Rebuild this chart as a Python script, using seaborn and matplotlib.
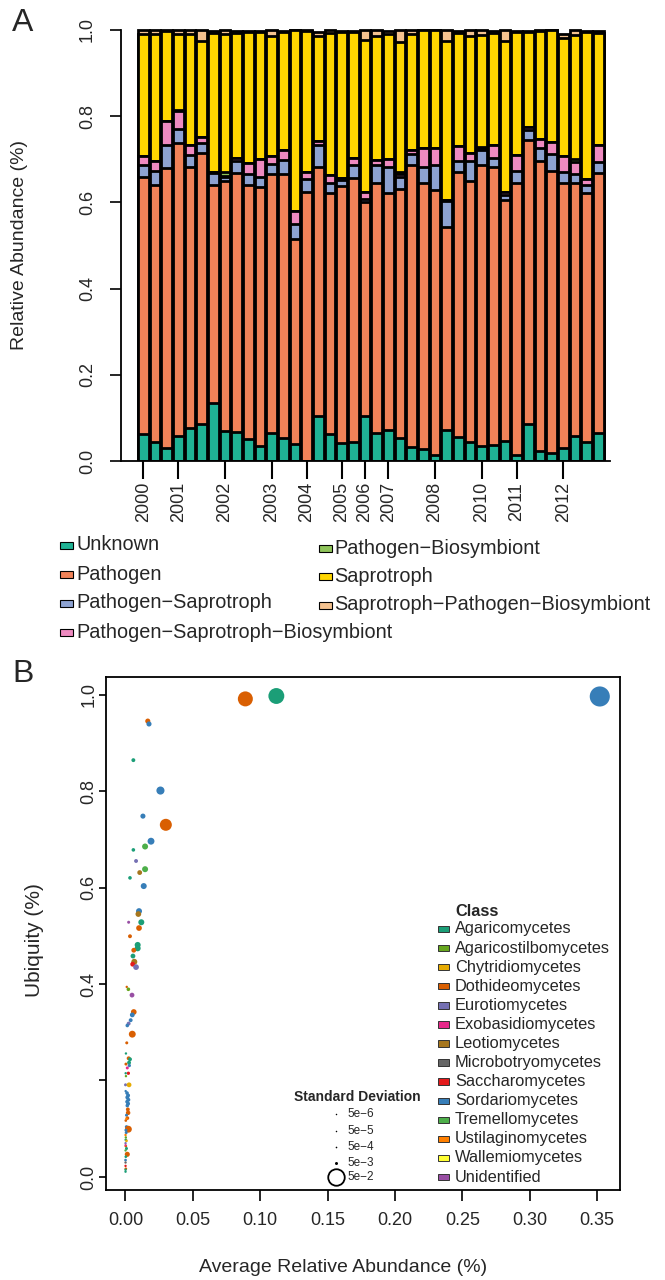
import numpy as np
import pandas as pd
import matplotlib
matplotlib.use("Agg")
import matplotlib.pyplot as plt
import seaborn as sns
from matplotlib.patches import Rectangle
from matplotlib.lines import Line2D

# ---------------- Panel A data ----------------
guilds = ["Unknown", "Pathogen", "Pathogen\u2212Saprotroph",
          "Pathogen\u2212Saprotroph\u2212Biosymbiont", "Pathogen\u2212Biosymbiont",
          "Saprotroph", "Saprotroph\u2212Pathogen\u2212Biosymbiont"]
guild_colors = ["#1FB294", "#F08258", "#8DA2D1", "#EE8AC0", "#8FC45A", "#FFD600", "#F4C28F"]

unknown = [.062, .045, .031, .058, .076, .086, .135, .069, .068, .050, .035, .066, .053, .039, 0, .104,
           .063, .041, .045, .104, .064, .071, .053, .033, .027, .014, .073, .056, .045, .035, .037, .046,
           .014, .086, .023, .019, .031, .058, .045, .066]
pathogen = [.598, .596, .649, .679, .607, .628, .506, .580, .600, .591, .600, .600, .613, .477, .625, .579,
            .559, .598, .611, .497, .581, .551, .579, .653, .618, .614, .471, .614, .605, .652, .646, .559,
            .631, .659, .672, .653, .615, .588, .577, .602]
path_sap = [.027, .031, .054, .034, .027, .023, .027, .011, .027, .025, .025, .023, .033, .034, .029, .051,
            .023, .014, .031, .007, .041, .061, .028, .026, .038, .059, .060, .025, .045, .035, .021, .013,
            .027, .023, .031, .040, .024, .020, .019, .025]
path_sap_bio = [.020, .023, .054, .040, .022, .014, .003, .002, .008, .025, .041, .018, .023, .031, .016, .009,
                .019, .003, .017, .017, .013, .018, .005, .010, .043, .039, .002, .035, .019, .003, .030, .007,
                .038, .007, .021, .028, .037, .027, .014, .041]
path_bio = [0, 0, 0, .004, 0, 0, 0, .008, 0, 0, 0, 0, 0, 0, 0, 0,
            0, 0, 0, 0, 0, 0, .006, 0, 0, 0, 0, 0, 0, .003, 0, 0,
            0, 0, 0, 0, 0, .008, 0, 0]
saprotroph = [.283, .296, .210, .175, .258, .224, .321, .320, .289, .304, .294, .280, .273, .419, .328, .244,
              .330, .340, .292, .352, .286, .289, .302, .268, .274, .274, .369, .262, .271, .260, .258, .350,
              .286, .221, .251, .260, .275, .287, .341, .258]
sap_path_bio = [.010, .009, .002, .010, .010, .025, .005, .010, .005, .002, .003, .013, .003, 0, .002, .009,
                .006, .001, .002, .023, .015, .008, .027, .010, 0, 0, .025, .006, .015, .012, .006, .025,
                .001, .001, .002, 0, .008, .012, .001, .006]
samples = ["S%02d" % (i + 1) for i in range(len(unknown))]
year_labels = ["2000", "2001", "2002", "2003", "2004", "2005", "2006", "2007", "2008", "2010", "2011", "2012"]
year_first_sample = [0, 3, 7, 11, 14, 17, 19, 21, 25, 29, 32, 36]

# ---------------- Panel B data ----------------
classes = ["Agaricomycetes", "Agaricostilbomycetes", "Chytridiomycetes", "Dothideomycetes",
           "Eurotiomycetes", "Exobasidiomycetes", "Leotiomycetes", "Microbotryomycetes",
           "Saccharomycetes", "Sordariomycetes", "Tremellomycetes", "Ustilaginomycetes",
           "Wallemiomycetes", "Unidentified"]
class_colors = ["#1B9E77", "#66A61E", "#E6AB02", "#D95F02", "#7570B3", "#E7298A", "#A6761D",
                "#666666", "#E41A1C", "#377EB8", "#4DAF4A", "#FF7F00", "#FFFF33", "#984EA3"]
SO, AG, DO, TR, EU, LE, UN, SA, AS, EX, CH, US, MI = ("Sordariomycetes", "Agaricomycetes", "Dothideomycetes",
    "Tremellomycetes", "Eurotiomycetes", "Leotiomycetes", "Unidentified", "Saccharomycetes",
    "Agaricostilbomycetes", "Exobasidiomycetes", "Chytridiomycetes", "Ustilaginomycetes", "Microbotryomycetes")
otu_class = [SO, AG, DO, DO, SO, AG, SO, SO, DO, SO, TR, AG, EU, TR, LE, AG, SO, SO, LE, UN,
             AG, DO, DO, AG, AG, DO, AG, LE, SA, EU, DO, AS, UN, DO, SO, SO, EU, SO, DO, DO,
             AG, DO, AG, AG, DO, SO, EX, SA, AG, AS, EU, CH, SO, SO, SO, SO, SO, SO, SO, SO,
             DO, DO, SO, DO, DO, SO, DO, SO, SO, US, AS, AG, CH, EU, DO, AG, TR, DO, AG, SO,
             MI, SA, DO, AG, AG, EX, US]
avg_abundance = [0.352, 0.112, 0.089, 0.0166, 0.0175, 0.0059, 0.026, 0.013, 0.030, 0.019,
                 0.0146, 0.0059, 0.0079, 0.0146, 0.0106, 0.0034, 0.0136, 0.0101, 0.0096, 0.0024,
                 0.0118, 0.0101, 0.0034, 0.0091, 0.0091, 0.0062, 0.0056, 0.0066, 0.0054, 0.0079,
                 0.0010, 0.0022, 0.0049, 0.0062, 0.0051, 0.0039, 0.0024, 0.0014, 0.0051, 0.0010,
                 0.0004, 0.0024, 0.0034, 0.0027, 0.0004, 0.0029, 0.0014, 0.0022, 0.0002, 0.0004,
                 0.0001, 0.0027, 0.0002, 0.0012, 0.0020, 0.0014, 0.0022, 0.0012, 0.0020, 0.0014,
                 0.0018, 0.0020, 0.0008, 0.0015, 0.0003, 0.0008, 0.0022, 0.0004, 0.0006, 0.0001,
                 0.0003, 0.0003, 0.0008, 0.0001, 0.0003, 0.0008, 0.0001, 0.0014, 0.0003, 0.0001,
                 0.0001, 0.0001, 0.0003, 0.0001, 0.0001, 0.0001, 0.0008]
ubiquity = [0.996, 0.997, 0.991, 0.945, 0.939, 0.864, 0.801, 0.748, 0.730, 0.696,
            0.685, 0.678, 0.655, 0.638, 0.631, 0.620, 0.603, 0.551, 0.545, 0.528,
            0.528, 0.516, 0.499, 0.481, 0.474, 0.470, 0.458, 0.446, 0.441, 0.435,
            0.394, 0.389, 0.377, 0.342, 0.336, 0.325, 0.318, 0.314, 0.296, 0.278,
            0.256, 0.246, 0.244, 0.237, 0.234, 0.231, 0.226, 0.215, 0.215, 0.209,
            0.191, 0.191, 0.178, 0.174, 0.169, 0.165, 0.160, 0.156, 0.152, 0.148,
            0.140, 0.133, 0.128, 0.122, 0.117, 0.104, 0.099, 0.097, 0.092, 0.087,
            0.082, 0.077, 0.075, 0.070, 0.064, 0.059, 0.055, 0.047, 0.042, 0.035,
            0.030, 0.023, 0.017, 0.015, 0.011, 0.066, 0.121]
std_dev = [0.062, 0.048, 0.045, 0.012, 0.012, 0.008, 0.022, 0.012, 0.035, 0.018,
           0.015, 0.007, 0.008, 0.015, 0.011, 0.007, 0.015, 0.015, 0.014, 0.005,
           0.015, 0.014, 0.008, 0.015, 0.015, 0.011, 0.011, 0.015, 0.011, 0.014,
           0.003, 0.007, 0.011, 0.014, 0.011, 0.008, 0.008, 0.007, 0.018, 0.005,
           0.003, 0.008, 0.008, 0.008, 0.005, 0.006, 0.005, 0.006, 0.003, 0.003,
           0.005, 0.011, 0.003, 0.007, 0.008, 0.008, 0.008, 0.007, 0.008, 0.007,
           0.008, 0.010, 0.005, 0.007, 0.004, 0.006, 0.018, 0.005, 0.005, 0.003,
           0.003, 0.004, 0.004, 0.003, 0.004, 0.005, 0.003, 0.012, 0.004, 0.004,
           0.003, 0.003, 0.004, 0.003, 0.003, 0.002, 0.003]
sd_legend_values = [5e-6, 5e-5, 5e-4, 5e-3, 5e-2]
sd_legend_labels = ["5e\u22126", "5e\u22125", "5e\u22124", "5e\u22123", "5e\u22122"]

# ---------------- figure ----------------
sns.set_theme(style="white")
plt.rcParams["font.family"] = ["Liberation Sans", "DejaVu Sans"]
W, H = 665, 1280
fig = plt.figure(figsize=(W / 100, H / 100), dpi=100)


def fx(px):
    return px / W


def fy(py):
    return 1 - py / H


def sd_to_diam_pt(sd):
    return (1.5 + 300 * np.asarray(sd)) * 0.72


# ---- Panel A ----
axA = fig.add_axes([fx(121), fy(461), (610 - 121) / W, (461 - 27.8) / H])
dfA = pd.DataFrame(dict(zip(guilds, [unknown, pathogen, path_sap, path_sap_bio, path_bio,
                                     saprotroph, sap_path_bio])), index=samples)
cum = dfA.cumsum(axis=1)
for k in reversed(range(len(guilds))):
    sns.barplot(x=samples, y=cum.iloc[:, k].values, order=samples, color=guild_colors[k],
                saturation=1, width=0.92, edgecolor="black", linewidth=2.0,
                errorbar=None, ax=axA)
axA.set_xlim(-1.91, 40.0)
axA.set_ylim(0, 1.005)
axA.set_xlabel("")
axA.set_ylabel("")
for s in ["top", "right"]:
    axA.spines[s].set_visible(False)
axA.spines["left"].set_bounds(0, 1)
for s in ["left", "bottom"]:
    axA.spines[s].set_color("black")
    axA.spines[s].set_linewidth(1.3)
axA.set_yticks(np.arange(0, 1.01, 0.2))
axA.set_yticklabels(["%.1f" % v for v in np.arange(0, 1.01, 0.2)], rotation=90, va="center")
axA.set_xticks(year_first_sample)
axA.set_xticklabels(year_labels, rotation=90)
axA.tick_params(axis="y", length=8, width=1.2, pad=10, labelsize=13, color="black", left=True)
axA.tick_params(axis="x", length=13, width=1.5, pad=2, labelsize=13, color="black", bottom=True)

fig.text(fx(20), fy(245), "Relative Abundance (%)", rotation=90, ha="center", va="center", fontsize=14)
fig.text(fx(23), fy(23), "A", ha="center", va="center", fontsize=23)

# legend A (two columns, drawn as R does)
col1 = [(guilds[i], guild_colors[i]) for i in [0, 1, 2, 3]]
col2 = [(guilds[i], guild_colors[i]) for i in [4, 5, 6]]
for j, (lab, c) in enumerate(col1):
    yc = 545 + 29 * j
    fig.add_artist(Rectangle((fx(60), fy(yc + 3.5)), 13 / W, 7 / H, transform=fig.transFigure,
                             facecolor=c, edgecolor="black", linewidth=0.8))
    fig.text(fx(76), fy(yc), lab, ha="left", va="center", fontsize=14.3)
for j, (lab, c) in enumerate(col2):
    yc = 548 + 28.5 * j
    fig.add_artist(Rectangle((fx(319), fy(yc + 3.5)), 13 / W, 7 / H, transform=fig.transFigure,
                             facecolor=c, edgecolor="black", linewidth=0.8))
    fig.text(fx(334), fy(yc), lab, ha="left", va="center", fontsize=14.3)

# ---- Panel B ----
axB = fig.add_axes([fx(106), fy(1190), (620 - 106) / W, (1190 - 676.7) / H])
dfB = pd.DataFrame({"abundance": avg_abundance, "ubiquity": ubiquity,
                    "Class": otu_class, "sd": std_dev})
dfB["area"] = sd_to_diam_pt(dfB["sd"]) ** 2
amin, amax = dfB["area"].min(), dfB["area"].max()
sns.scatterplot(data=dfB, x="abundance", y="ubiquity", hue="Class",
                palette=dict(zip(classes, class_colors)), hue_order=classes,
                size="area", sizes=(amin, amax), size_norm=(amin, amax),
                linewidth=0, legend=False, ax=axB)
axB.set_xlim(-0.0144, 0.367)
axB.set_ylim(-0.027, 1.037)
for s in axB.spines.values():
    s.set_color("black")
    s.set_linewidth(1.3)
    s.set_visible(True)
xt = np.arange(0, 0.351, 0.05)
axB.set_xticks(xt)
axB.set_xticklabels(["%.2f" % v for v in xt])
yt = np.arange(0, 1.01, 0.2)
axB.set_yticks(yt)
axB.set_yticklabels(["0.0", "", "0.4", "0.6", "0.8", "1.0"], rotation=90, va="center")
axB.tick_params(axis="x", length=8, width=1.2, pad=8, labelsize=13, color="black", bottom=True)
axB.tick_params(axis="y", length=5, width=1.2, pad=1, labelsize=13, color="black", left=True)
axB.set_xlabel("")
axB.set_ylabel("")
fig.text(fx(343), fy(1268), "Average Relative Abundance (%)", ha="center", va="center", fontsize=14)
fig.text(fx(34), fy(940), "Ubiquity (%)", rotation=90, ha="center", va="center", fontsize=15)
fig.text(fx(23), fy(674), "B", ha="center", va="center", fontsize=23)

# class legend
fig.text(fx(455), fy(912), "Class", ha="left", va="center", fontsize=11.8, fontweight="bold")
for i, (lab, c) in enumerate(zip(classes, class_colors)):
    yc = 929 + 19.08 * i
    fig.add_artist(Rectangle((fx(437.5), fy(yc + 3.2)), 11 / W, 6.4 / H, transform=fig.transFigure,
                             facecolor=c, edgecolor="#333333", linewidth=0.7))
    fig.text(fx(455), fy(yc), lab, ha="left", va="center", fontsize=11.8)

# standard deviation legend
fig.text(fx(357), fy(1097), "Standard Deviation", ha="center", va="center", fontsize=10, fontweight="bold")
sd_rows = [1114, 1130.7, 1146.7, 1163.3, 1176.7]
for v, lab, yc in zip(sd_legend_values, sd_legend_labels, sd_rows):
    d = float(sd_to_diam_pt(v))
    if v >= 0.01:
        fig.add_artist(Line2D([fx(336)], [fy(yc)], marker="o", markersize=d, markerfacecolor="none",
                              markeredgecolor="black", markeredgewidth=1.3, linestyle="none",
                              transform=fig.transFigure))
    else:
        fig.add_artist(Line2D([fx(336)], [fy(yc)], marker="o", markersize=d, markerfacecolor="black",
                              markeredgecolor="black", markeredgewidth=0, linestyle="none",
                              transform=fig.transFigure))
    fig.text(fx(347), fy(yc), lab, ha="left", va="center", fontsize=8.5)

fig.savefig("out.png", dpi=100)
